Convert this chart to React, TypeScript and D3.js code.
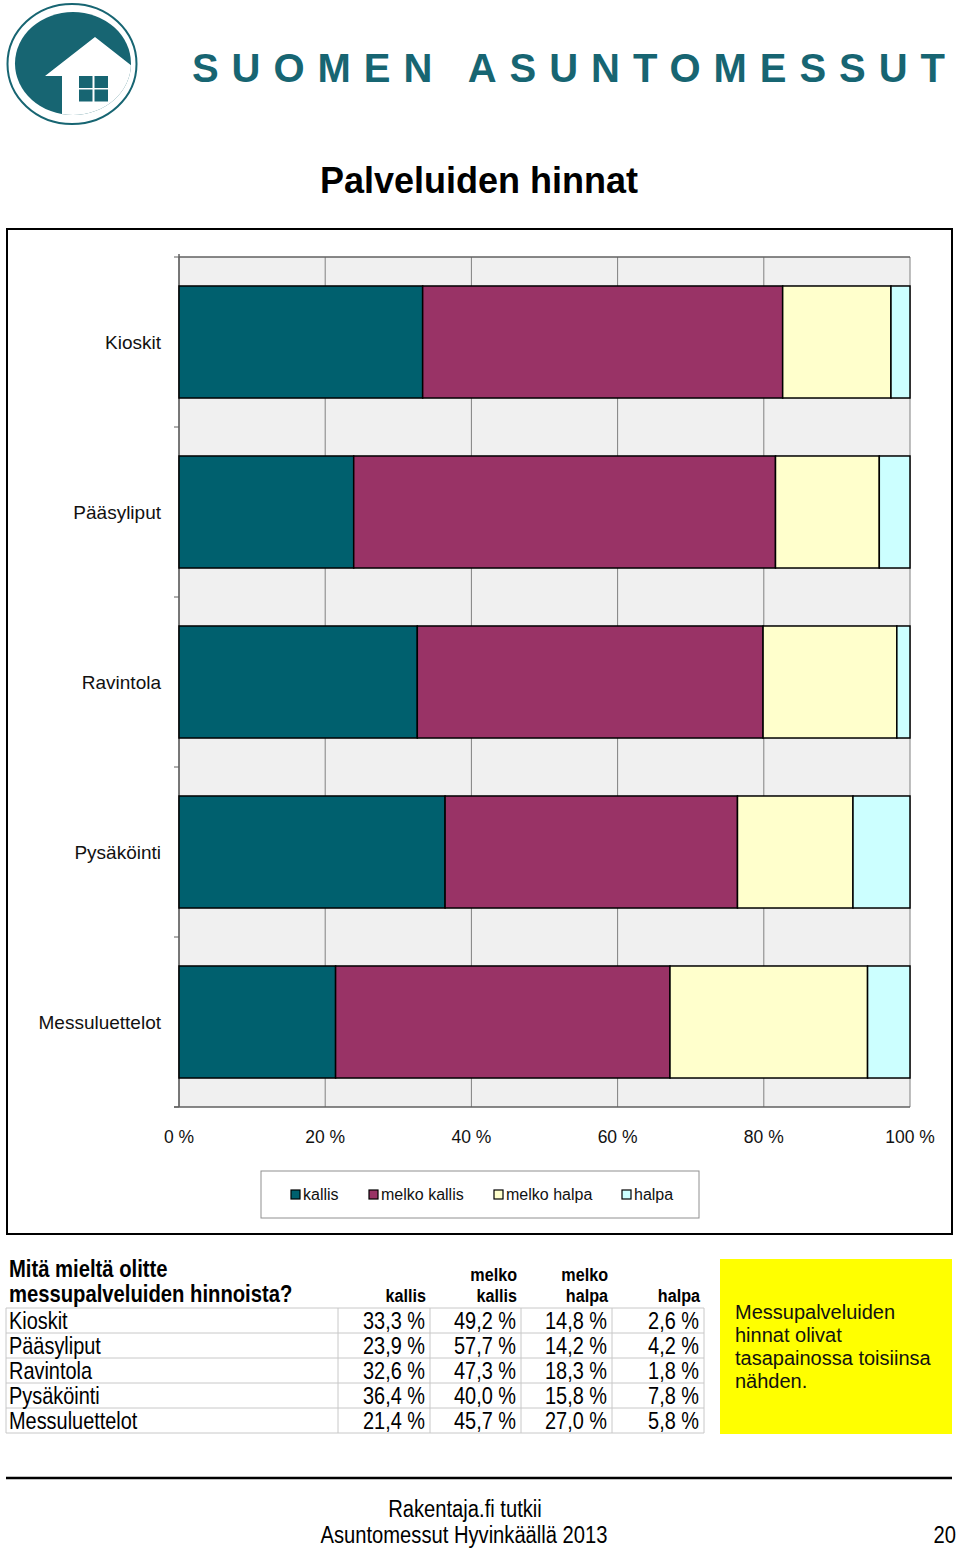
import React from "react";
import * as d3 from "d3";

const categories = ["Kioskit", "Pääsyliput", "Ravintola", "Pysäköinti", "Messuluettelot"];
const seriesNames = ["kallis", "melko kallis", "melko halpa", "halpa"];
const kallis = [33.3, 23.9, 32.6, 36.4, 21.4];
const melkoKallis = [49.2, 57.7, 47.3, 40.0, 45.7];
const melkoHalpa = [14.8, 14.2, 18.3, 15.8, 27.0];
const halpa = [2.6, 4.2, 1.8, 7.8, 5.8];
const xTicks = [0, 0.2, 0.4, 0.6, 0.8, 1];
const noteLines = ["Messupalveluiden", "hinnat olivat", "tasapainossa toisiinsa", "nähden."];

const COLORS = ["#00606e", "#993366", "#ffffcc", "#ccffff"];
const TEAL = "#176572";
const SANS = "'Liberation Sans', Arial, sans-serif";

const fmt = (v: number) => v.toFixed(1).replace(".", ",") + " %";

// condensed text: no narrow font is installed, so squeeze Liberation Sans horizontally
const NText = ({
  x,
  y,
  sx = 0.84,
  size,
  anchor = "start",
  bold = false,
  children,
}: {
  x: number;
  y: number;
  sx?: number;
  size: number;
  anchor?: string;
  bold?: boolean;
  children: React.ReactNode;
}) => (
  <text
    transform={`translate(${x},${y}) scale(${sx},1)`}
    textAnchor={anchor}
    fontFamily={SANS}
    fontSize={size}
    fontWeight={bold ? "bold" : "normal"}
    fill="#000"
  >
    {children}
  </text>
);

const Logo = () => {
  const roof = "M45,76 L95,37 L150,80 L150,130 L62,130 L62,76 Z";
  const win = [0, 1].flatMap(r => [0, 1].map(c => ({ x: 79 + c * 15.5, y: 76 + r * 13.5 })));
  return (
    <g>
      <defs>
        <clipPath id="innerOval">
          <ellipse cx={73} cy={63.5} rx={58} ry={51.5} />
        </clipPath>
      </defs>
      <ellipse cx={72} cy={64} rx={64.5} ry={60} fill="#fff" stroke={TEAL} strokeWidth={2} />
      <ellipse cx={73} cy={63.5} rx={58} ry={51.5} fill={TEAL} />
      <path d={roof} fill="#fff" clipPath="url(#innerOval)" />
      {win.map((w, i) => (
        <rect key={i} x={w.x} y={w.y} width={13.5} height={12} fill={TEAL} />
      ))}
      <text
        x={192}
        y={82}
        textLength={753}
        lengthAdjust="spacing"
        fontFamily={SANS}
        fontWeight="bold"
        fontSize={40}
        fill={TEAL}
      >
        SUOMEN ASUNTOMESSUT
      </text>
    </g>
  );
};

const App = () => {
  const rows = categories.map((c, i) => ({
    category: c,
    "kallis": kallis[i],
    "melko kallis": melkoKallis[i],
    "melko halpa": melkoHalpa[i],
    "halpa": halpa[i],
  }));
  const stacked = d3
    .stack<any>()
    .keys(seriesNames)
    .offset(d3.stackOffsetExpand)(rows);

  const x = d3.scaleLinear().domain([0, 1]).range([179, 910]);
  const y = d3
    .scaleBand<string>()
    .domain(categories)
    .range([257, 1107])
    .paddingInner(0.341)
    .paddingOuter(0.1705);
  const step = y.step();
  const bandEdges = [...categories.map(c => y(c)! - (step - y.bandwidth()) / 2), 1107];

  // table geometry
  const colRight = [426, 517, 608, 700];
  const colLines = [6, 338, 430, 521, 612, 704];
  const rowTop = 1308;
  const rowH = 25;
  const tableCols = [kallis, melkoKallis, melkoHalpa, halpa];

  return (
    <svg
      width={960}
      height={1548}
      style={{ position: "absolute", left: 0, top: 0, background: "#fff" }}
    >
      <Logo />

      <text x={479} y={193} textAnchor="middle" fontFamily={SANS} fontWeight="bold" fontSize={36}>
        Palveluiden hinnat
      </text>

      {/* chart frame */}
      <rect x={7} y={229} width={945} height={1005} fill="#fff" stroke="#000" strokeWidth={2} />

      {/* plot area */}
      <rect x={x(0)} y={257} width={x(1) - x(0)} height={850} fill="#f0f0f0" />
      {xTicks.map(t => (
        <line key={t} x1={x(t)} x2={x(t)} y1={257} y2={1107} stroke="#808080" strokeWidth={1} />
      ))}
      <line x1={x(0)} x2={x(1)} y1={257} y2={257} stroke="#606060" strokeWidth={1.5} />
      <line x1={x(0)} x2={x(0)} y1={254} y2={1107} stroke="#606060" strokeWidth={1.5} />
      <line x1={174} x2={x(1)} y1={1107} y2={1107} stroke="#606060" strokeWidth={1.5} />
      {bandEdges.map((e, i) => (
        <line key={i} x1={174} x2={x(0)} y1={e} y2={e} stroke="#606060" strokeWidth={1} />
      ))}

      {stacked.map((s, si) => (
        <g key={s.key}>
          {s.map((d, i) => (
            <rect
              key={i}
              x={x(d[0])}
              y={y(categories[i])}
              width={x(d[1]) - x(d[0])}
              height={y.bandwidth()}
              fill={COLORS[si]}
              stroke="#000"
              strokeWidth={1.5}
            />
          ))}
        </g>
      ))}

      {categories.map(c => (
        <text
          key={c}
          x={161}
          y={y(c)! + y.bandwidth() / 2}
          dy="0.35em"
          textAnchor="end"
          fontFamily={SANS}
          fontSize={19}
          fill="#111"
        >
          {c}
        </text>
      ))}

      {xTicks.map(t => (
        <text key={t} x={x(t)} y={1143} textAnchor="middle" fontFamily={SANS} fontSize={17.5} fill="#111">
          {`${Math.round(t * 100)} %`}
        </text>
      ))}

      {/* legend */}
      <rect x={261} y={1171} width={438} height={47} fill="#fff" stroke="#909090" strokeWidth={1} />
      {seriesNames.map((n, i) => {
        const lx = [291, 369, 494, 622][i];
        return (
          <g key={n}>
            <rect x={lx} y={1190} width={9} height={9} fill={COLORS[i]} stroke="#000" strokeWidth={1.2} />
            <text x={lx + 12} y={1200} fontFamily={SANS} fontSize={16} fill="#111">
              {n}
            </text>
          </g>
        );
      })}

      {/* table */}
      <NText x={9} y={1277} size={23} sx={0.88} bold>
        Mitä mieltä olitte
      </NText>
      <NText x={9} y={1302} size={23} sx={0.88} bold>
        messupalveluiden hinnoista?
      </NText>
      <NText x={colRight[0]} y={1302} size={19} sx={0.85} anchor="end" bold>kallis</NText>
      <NText x={colRight[1]} y={1281} size={19} sx={0.85} anchor="end" bold>melko</NText>
      <NText x={colRight[1]} y={1302} size={19} sx={0.85} anchor="end" bold>kallis</NText>
      <NText x={colRight[2]} y={1281} size={19} sx={0.85} anchor="end" bold>melko</NText>
      <NText x={colRight[2]} y={1302} size={19} sx={0.85} anchor="end" bold>halpa</NText>
      <NText x={colRight[3]} y={1302} size={19} sx={0.85} anchor="end" bold>halpa</NText>
      {d3.range(categories.length + 1).map(i => (
        <line key={i} x1={6} x2={704} y1={rowTop + i * rowH} y2={rowTop + i * rowH} stroke="#c8c8c8" />
      ))}
      {colLines.map(cx => (
        <line key={cx} x1={cx} x2={cx} y1={rowTop} y2={rowTop + categories.length * rowH} stroke="#c8c8c8" />
      ))}
      {categories.map((c, i) => (
        <g key={c}>
          <NText x={9} y={rowTop + i * rowH + 20.5} size={24} sx={0.83}>
            {c}
          </NText>
          {tableCols.map((col, j) => (
            <NText key={j} x={colRight[j] - 1} y={rowTop + i * rowH + 20.5} size={24} sx={0.83} anchor="end">
              {fmt(col[i])}
            </NText>
          ))}
        </g>
      ))}

      {/* note */}
      <rect x={720} y={1259} width={232} height={175} fill="#ffff00" />
      {noteLines.map((l, i) => (
        <text key={i} x={735} y={1319 + i * 23} fontFamily={SANS} fontSize={20} fill="#111">
          {l}
        </text>
      ))}

      {/* footer */}
      <line x1={6} x2={952} y1={1478} y2={1478} stroke="#000" strokeWidth={2.5} />
      <NText x={465} y={1517} size={23} sx={0.877} anchor="middle">
        Rakentaja.fi tutkii
      </NText>
      <NText x={464} y={1543} size={23} sx={0.877} anchor="middle">
        Asuntomessut Hyvinkäällä 2013
      </NText>
      <NText x={956} y={1543} size={23} sx={0.877} anchor="end">
        20
      </NText>
    </svg>
  );
};

export default App;
